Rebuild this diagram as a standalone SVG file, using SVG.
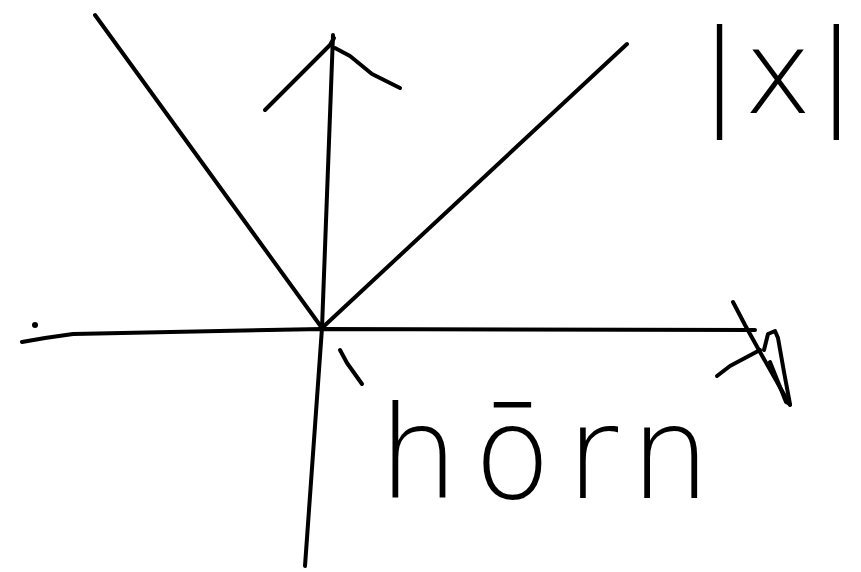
<svg xmlns="http://www.w3.org/2000/svg" width="861" height="572" viewBox="0 0 861 572">
<style>
.s{fill:none;stroke:#000;stroke-width:4;stroke-linecap:round;stroke-linejoin:round}
.t{font-family:"DejaVu Sans ExtraLight","DejaVu Sans",sans-serif;font-weight:200;fill:#000}
</style>
<rect width="861" height="572" fill="#fff"/>
<g id="connectors">
<path class="s" d="M22,342 L45,338 L73,334 L322,329 L755,330"/>
<path class="s" d="M333,35 L322,328 L305,566"/>
<path class="s" d="M265,110 L330,45 L334,38"/>
<path class="s" d="M335,48 L350,56 L372,74 L400,88"/>
<path class="s" d="M95,15 L322,328 L627,44"/>
<path class="s" d="M340,350 L347,363 L362,384"/>
<path class="s" d="M733,302 L745,325 L760,352 L790,405"/>
<path class="s" d="M760,350 L730,366 L717,376"/>
<path class="s" d="M764,350 L768,334 L775,331 L778,338 L784,372 L790,404 L786,402 L770,362"/>
<circle cx="35" cy="325" r="3"/>
</g>
<g id="abs-label">
<text class="t" x="700" y="113" font-size="115">|<tspan dx="5">x</tspan><tspan dx="5">|</tspan></text>
</g>
<g id="horn-label">
<text class="t" x="378" y="498" font-size="128">h<tspan dx="14">ō</tspan><tspan dx="14">r</tspan><tspan dx="14">n</tspan></text>
</g>
</svg>
